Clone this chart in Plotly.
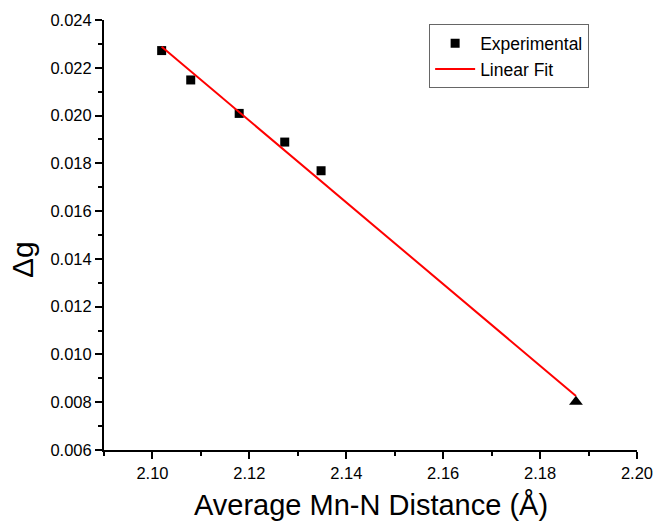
import plotly.graph_objects as go

# Data
exp_x = [2.1019, 2.1079, 2.1179, 2.1273, 2.1348]
exp_y = [0.02272, 0.02149, 0.02009, 0.01889, 0.01769]
tri_x = [2.1874]
tri_y = [0.00802]
fit_x = [2.1019, 2.1874]
fit_y = [0.02288, 0.00826]

font_family = "Liberation Sans, Arial, sans-serif"

fig = go.Figure()
fig.add_trace(go.Scatter(x=exp_x, y=exp_y, mode="markers", name="Experimental",
                         marker=dict(symbol="square", size=9, color="black")))
fig.add_trace(go.Scatter(x=fit_x, y=fit_y, mode="lines", name="Linear Fit",
                         line=dict(color="red", width=2)))
fig.add_trace(go.Scatter(x=tri_x, y=tri_y, mode="markers", showlegend=False,
                         marker=dict(symbol="triangle-up", size=12, color="black")))

fig.update_layout(
    width=654, height=523,
    margin=dict(l=104, r=17, t=20, b=73, autoexpand=False),
    paper_bgcolor="white", plot_bgcolor="white",
    font=dict(family=font_family, color="black"),
    showlegend=True,
    legend=dict(x=0.61, y=0.99, xanchor="left", yanchor="top",
                bordercolor="#666666", borderwidth=1, bgcolor="white",
                font=dict(size=17.5), tracegroupgap=0, itemwidth=40),
    xaxis=dict(range=[2.09, 2.20], tick0=2.10, dtick=0.02, tickformat=".2f",
               showgrid=False, zeroline=False, showline=True, linecolor="black",
               linewidth=2, ticks="outside", ticklen=7, tickwidth=2, tickcolor="black",
               tickfont=dict(size=16.5), automargin=False,
               minor=dict(dtick=0.01, tick0=2.10, ticks="outside", ticklen=4,
                          tickwidth=2, tickcolor="black")),
    yaxis=dict(range=[0.006, 0.024], dtick=0.002, tick0=0.006, tickformat=".3f",
               showgrid=False, zeroline=False, showline=True, linecolor="black",
               linewidth=2, ticks="outside", ticklen=7, tickwidth=2, tickcolor="black",
               tickfont=dict(size=16.5), automargin=False,
               minor=dict(dtick=0.001, ticks="outside", ticklen=4,
                          tickwidth=2, tickcolor="black")),
    annotations=[
        dict(text="Δg", textangle=-90, xref="paper", yref="paper",
             x=0, y=0.442, xanchor="center", yanchor="middle",
             xshift=-81, showarrow=False, font=dict(size=30)),
        dict(text="Average Mn-N Distance (Å)", xref="paper", yref="paper",
             x=0.5, y=0, xanchor="center", yanchor="middle",
             yshift=-55, showarrow=False, font=dict(size=29)),
    ],
)

fig.write_html("out.html", config={"displayModeBar": False},
               post_script="document.body.style.margin='0px';")
